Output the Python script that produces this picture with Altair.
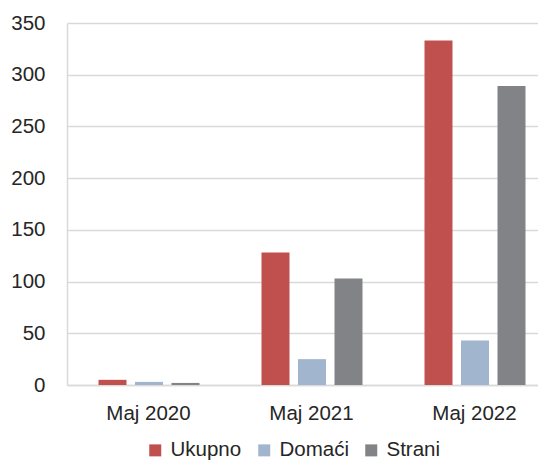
import altair as alt
import pandas as pd

groups = ["Maj 2020", "Maj 2021", "Maj 2022"]
series = ["Ukupno", "Domaći", "Strani"]
ukupno = [5, 128, 333]
domaci = [3, 25, 43]
strani = [2, 103, 289]
colors = ["#C0504D", "#A1B6CE", "#828387"]
y_ticks = [0, 50, 100, 150, 200, 250, 300, 350]

rows = []
for name, vals in zip(series, [ukupno, domaci, strani]):
    for g, v in zip(groups, vals):
        rows.append({"period": g, "serija": name, "vrijednost": v})
df = pd.DataFrame(rows)

FONT = "Liberation Sans"
TXT = "#262626"
GRID = "#D9D9D9"
FS = 20.5

chart = alt.Chart(df).mark_bar().encode(
    x=alt.X(
        "period:N", sort=groups,
        scale=alt.Scale(range=[0, 489], paddingInner=0, paddingOuter=0),
        axis=alt.Axis(title=None, labelAngle=0, ticks=False, labelPadding=18,
                      domainColor=GRID, domainWidth=1.5, grid=False,
                      labelFontSize=FS, labelFont=FONT, labelColor=TXT),
    ),
    xOffset=alt.XOffset(
        "serija:N", sort=series,
        scale=alt.Scale(range=[31.5, 132.5], paddingInner=0.233, paddingOuter=0),
    ),
    y=alt.Y(
        "vrijednost:Q",
        scale=alt.Scale(domain=[0, 350], nice=False),
        axis=alt.Axis(title=None, values=y_ticks, ticks=False, labelPadding=22,
                      gridColor=GRID, gridWidth=1.5, domainColor=GRID, domainWidth=1.5,
                      labelFontSize=FS, labelFont=FONT, labelColor=TXT),
    ),
    color=alt.Color(
        "serija:N", sort=series,
        scale=alt.Scale(domain=series, range=colors),
        legend=alt.Legend(title=None, orient="none", legendX=78, legendY=417,
                          direction="horizontal", columns=3, symbolType="square",
                          symbolSize=144, symbolStrokeWidth=0, labelFontSize=FS,
                          labelFont=FONT, labelColor=TXT, labelOffset=5,
                          columnPadding=12, labelLimit=300),
    ),
).properties(
    width=471, height=362,
    autosize=alt.AutoSizeParams(type="none"),
    padding={"left": 59, "top": 15, "right": 0, "bottom": 79},
).configure_view(stroke=None)

chart.save("out.html", embed_options={"renderer": "svg", "actions": False})
